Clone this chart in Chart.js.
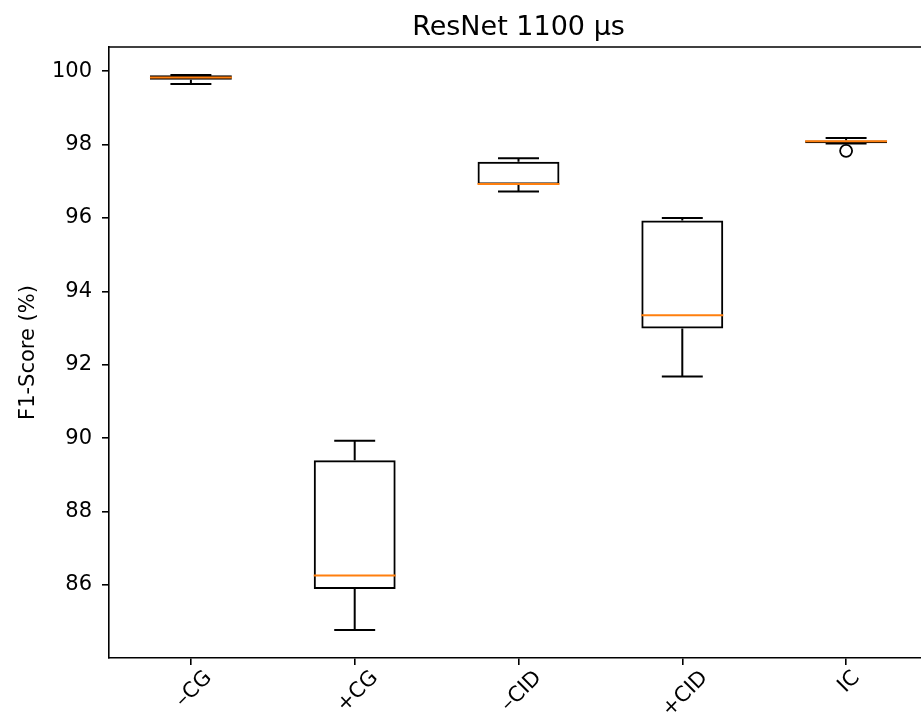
<!DOCTYPE html>
<html>
<head>
<meta charset="utf-8">
<script src="https://cdn.jsdelivr.net/npm/chart.js@4"></script>
<style>
    body { margin: 0; overflow: hidden; background: #ffffff; }
    canvas { display: block; }
</style>
</head>
<body>
<canvas id="graficoBox" width="940" height="726"></canvas>
<script>
const categorias = ['\u2013CG', '+CG', '\u2013CID', '+CID', 'IC']
const bigodeBaixo = [99.65, 84.77, 96.72, 91.68, 98.03]
const quartil1 = [99.77, 85.89, 96.91, 92.99, 98.04]
const mediana = [99.83, 86.26, 96.93, 93.35, 98.09]
const quartil3 = [99.89, 89.40, 97.53, 95.93, 98.11]
const bigodeAlto = [99.90, 89.93, 97.63, 96.00, 98.18]
const outliers = [null, null, null, null, 97.83]
const ticksY = [86, 88, 90, 92, 94, 96, 98, 100]

const fonte = 'DejaVu Sans'

// bigodes, tampas, medianas e moldura de cima
const desenhoBoxplot = {
    id: 'desenhoBoxplot',
    afterDatasetsDraw(chart) {
        const ctx = chart.ctx
        const x = chart.scales.x
        const y = chart.scales.y
        const larg = x.width / categorias.length
        ctx.save()
        ctx.lineWidth = 2
        ctx.strokeStyle = '#000000'
        for (let i = 0; i < categorias.length; i++) {
            const cx = x.getPixelForValue(i)
            ctx.beginPath()
            ctx.moveTo(cx, y.getPixelForValue(quartil3[i]))
            ctx.lineTo(cx, y.getPixelForValue(bigodeAlto[i]))
            ctx.moveTo(cx, y.getPixelForValue(quartil1[i]))
            ctx.lineTo(cx, y.getPixelForValue(bigodeBaixo[i]))
            ctx.moveTo(cx - larg * 0.125, y.getPixelForValue(bigodeAlto[i]))
            ctx.lineTo(cx + larg * 0.125, y.getPixelForValue(bigodeAlto[i]))
            ctx.moveTo(cx - larg * 0.125, y.getPixelForValue(bigodeBaixo[i]))
            ctx.lineTo(cx + larg * 0.125, y.getPixelForValue(bigodeBaixo[i]))
            ctx.stroke()
        }
        ctx.strokeStyle = '#ff7f0e'
        for (let i = 0; i < categorias.length; i++) {
            const cx = x.getPixelForValue(i)
            ctx.beginPath()
            ctx.moveTo(cx - larg * 0.25, y.getPixelForValue(mediana[i]))
            ctx.lineTo(cx + larg * 0.25, y.getPixelForValue(mediana[i]))
            ctx.stroke()
        }
        const area = chart.chartArea
        ctx.strokeStyle = '#000000'
        ctx.lineWidth = 1.6
        ctx.beginPath()
        ctx.moveTo(area.left, area.top)
        ctx.lineTo(area.right, area.top)
        ctx.stroke()
        ctx.restore()
    },
    afterDraw(chart) {
        // rotulos do eixo x girados 45 graus, centrados no tick
        const ctx = chart.ctx
        const x = chart.scales.x
        const topo = chart.chartArea.bottom + 8
        ctx.save()
        ctx.font = '21px "' + fonte + '"'
        ctx.fillStyle = '#000000'
        ctx.textAlign = 'center'
        ctx.textBaseline = 'middle'
        for (let i = 0; i < categorias.length; i++) {
            const w = ctx.measureText(categorias[i]).width
            const lado = (w + 24.5) * Math.SQRT1_2
            ctx.save()
            ctx.translate(x.getPixelForValue(i) + 3, topo + lado / 2)
            ctx.rotate(-Math.PI / 4)
            ctx.fillText(categorias[i], 0, 0)
            ctx.restore()
        }
        ctx.restore()
    }
}

function carregarGrafico() {
    const graficoBox = document.getElementById('graficoBox')

    new Chart(graficoBox, {
        type: 'bar',
        data: {
            labels: categorias,
            datasets: [
                {
                    label: 'Caixa',
                    data: quartil1.map((v, i) => [v, quartil3[i]]),
                    backgroundColor: 'rgba(255,255,255,0)',
                    borderColor: '#000000',
                    borderWidth: 2,
                    borderSkipped: false,
                    barPercentage: 0.5,
                    categoryPercentage: 1.0
                },
                {
                    type: 'line',
                    label: 'Outliers',
                    data: outliers,
                    showLine: false,
                    pointStyle: 'circle',
                    pointRadius: 6,
                    pointBackgroundColor: 'rgba(255,255,255,0)',
                    pointBorderColor: '#000000',
                    pointBorderWidth: 1.8
                }
            ]
        },
        options: {
            responsive: false,
            animation: false,
            events: [],
            layout: {
                padding: { left: 0, right: 12, top: 0, bottom: 0 }
            },
            plugins: {
                legend: { display: false },
                tooltip: { enabled: false },
                title: {
                    display: true,
                    text: 'ResNet 1100 \u00b5s',
                    fullSize: false,
                    color: '#000000',
                    font: { family: fonte, size: 27, weight: 'normal' },
                    padding: { top: 12, bottom: 2.6 }
                }
            },
            scales: {
                x: {
                    offset: true,
                    afterFit: (scale) => { scale.height = 68 },
                    grid: {
                        offset: false,
                        drawOnChartArea: false,
                        drawTicks: true,
                        tickLength: 7,
                        color: '#000000',
                        lineWidth: 1.6
                    },
                    border: { color: '#000000', width: 1.6 },
                    ticks: { display: false }
                },
                y: {
                    min: 84.01,
                    max: 100.66,
                    afterFit: (scale) => { scale.width = 109 },
                    afterBuildTicks: (scale) => { scale.ticks = ticksY.map(v => ({ value: v })) },
                    grid: {
                        drawOnChartArea: false,
                        drawTicks: true,
                        tickLength: 7,
                        color: '#000000',
                        lineWidth: 1.6
                    },
                    border: { color: '#000000', width: 1.6 },
                    ticks: {
                        color: '#000000',
                        padding: 10,
                        font: { family: fonte, size: 21 }
                    },
                    title: {
                        display: true,
                        text: 'F1-Score (%)',
                        color: '#000000',
                        font: { family: fonte, size: 21 },
                        padding: { top: 16, bottom: 0 }
                    }
                }
            }
        },
        plugins: [desenhoBoxplot]
    })
}

carregarGrafico()
</script>
</body>
</html>
